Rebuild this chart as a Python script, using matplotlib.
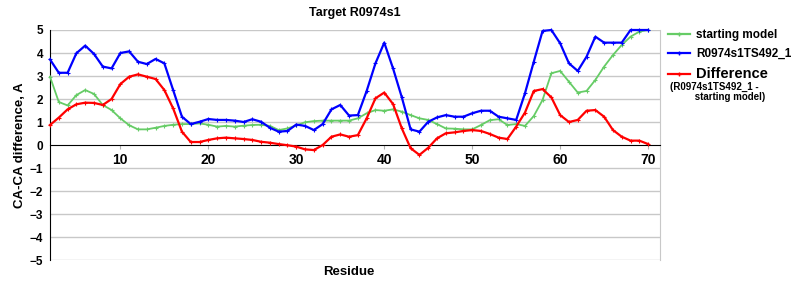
import matplotlib
matplotlib.use('Agg')
import matplotlib.pyplot as plt
from matplotlib.lines import Line2D

plt.rcParams['font.family'] = ['Liberation Sans', 'DejaVu Sans']
plt.rcParams['font.weight'] = 'bold'

# residue numbers
residues = list(range(2, 71))

# CA-CA difference, starting model
starting_model = [2.97, 1.87, 1.72, 2.17, 2.39, 2.22, 1.74, 1.52, 1.16, 0.86,
                  0.68, 0.68, 0.75, 0.83, 0.88, 0.91, 0.91, 0.94, 0.88, 0.80,
                  0.83, 0.80, 0.84, 0.87, 0.88, 0.83, 0.65, 0.72, 0.85, 0.99,
                  1.04, 1.06, 1.06, 1.06, 1.06, 1.16, 1.38, 1.52, 1.49, 1.55,
                  1.45, 1.30, 1.16, 1.09, 0.91, 0.72, 0.71, 0.68, 0.68, 0.87,
                  1.08, 1.12, 0.87, 0.91, 0.83, 1.26, 1.96, 3.12, 3.22, 2.75,
                  2.28, 2.35, 2.83, 3.41, 3.91, 4.35, 4.71, 4.93, 5.00]

# CA-CA difference, R0974s1TS492_1
model_492 = [3.72, 3.14, 3.14, 3.99, 4.32, 3.96, 3.41, 3.33, 4.00, 4.07,
             3.62, 3.52, 3.74, 3.55, 2.39, 1.23, 0.91, 1.01, 1.13, 1.09,
             1.09, 1.06, 1.00, 1.12, 1.01, 0.75, 0.58, 0.61, 0.89, 0.83,
             0.65, 0.91, 1.55, 1.74, 1.28, 1.30, 2.35, 3.55, 4.45, 3.33,
             2.07, 0.68, 0.58, 1.01, 1.20, 1.30, 1.23, 1.23, 1.38, 1.49,
             1.49, 1.23, 1.16, 1.09, 2.25, 3.62, 4.96, 5.00, 4.42, 3.55,
             3.22, 3.84, 4.71, 4.45, 4.45, 4.45, 5.00, 5.00, 5.00]

# difference (R0974s1TS492_1 - starting model)
difference = [0.87, 1.19, 1.55, 1.77, 1.84, 1.83, 1.74, 2.00, 2.65, 2.97,
              3.07, 2.97, 2.87, 2.39, 1.59, 0.58, 0.13, 0.13, 0.22, 0.29,
              0.32, 0.29, 0.26, 0.22, 0.14, 0.10, 0.04, -0.01, -0.07, -0.19,
              -0.22, 0.00, 0.36, 0.46, 0.36, 0.43, 1.16, 2.03, 2.28, 1.78,
              0.72, -0.14, -0.43, -0.12, 0.29, 0.51, 0.55, 0.61, 0.65, 0.61,
              0.48, 0.32, 0.26, 0.80, 1.41, 2.35, 2.43, 2.07, 1.30, 1.00,
              1.09, 1.49, 1.52, 1.23, 0.65, 0.36, 0.19, 0.19, 0.04]

xticks = [10, 20, 30, 40, 50, 60, 70]
yticks = [-5, -4, -3, -2, -1, 0, 1, 2, 3, 4, 5]

green = '#66cc66'
blue = '#0000ff'
red = '#ff0000'

fig = plt.figure(figsize=(8, 3), dpi=100)
ax = fig.add_axes([0.0625, 0.1333, 0.7625, 0.7667])

ax.plot(residues, starting_model, color=green, lw=1.3, marker='+', ms=3, mew=0.8, clip_on=False, zorder=3)
ax.plot(residues, model_492, color=blue, lw=1.6, marker='+', ms=3, mew=0.8, clip_on=False, zorder=4)
ax.plot(residues, difference, color=red, lw=1.6, marker='+', ms=3, mew=0.8, clip_on=False, zorder=5)

ax.set_xlim(2, 71.35)
ax.set_ylim(-5, 5)
ax.set_yticks(yticks)
ax.set_yticklabels([str(v).replace('-', '\u2212') for v in yticks], fontsize=8.5, fontweight='bold')
ax.set_xticks(xticks)
ax.set_xticklabels([str(v) for v in xticks], fontsize=8.5, fontweight='bold')

# grid
for v in yticks:
    if v != 0:
        ax.axhline(v, color='#c8c8c8', lw=1, zorder=1)

ax.spines['top'].set_visible(False)
ax.spines['bottom'].set_position(('data', 0))
ax.spines['bottom'].set_color('black')
ax.spines['right'].set_color('#c8c8c8')
ax.spines['left'].set_color('black')

ax.tick_params(axis='x', length=3, color='#b0b0b0', pad=3)
ax.tick_params(axis='y', length=0, pad=5)

ax.set_title('Target R0974s1', fontsize=9, fontweight='bold', pad=10)
ax.set_xlabel('Residue', fontsize=9.5, fontweight='bold')
ax.xaxis.set_label_coords(0.49, -0.025)
ax.set_ylabel('CA-CA difference, A', fontsize=9.5, fontweight='bold')
ax.yaxis.set_label_coords(-0.04, 0.5)

handles = [Line2D([], [], color=green, lw=1.6, marker='+', ms=3),
           Line2D([], [], color=blue, lw=1.6, marker='+', ms=3),
           Line2D([], [], color=red, lw=1.6, marker='+', ms=3)]
leg = ax.legend(handles, ['starting model', 'R0974s1TS492_1', 'Difference'],
                loc='upper left', bbox_to_anchor=(0.995, 1.05), frameon=False,
                handlelength=1.9, handletextpad=0.5, labelspacing=0.6,
                prop={'weight': 'bold', 'size': 8.5})
leg.get_texts()[2].set_fontsize(10.5)
fig.text(0.8375, 0.728, '(R0974s1TS492_1 -\n         starting model)', fontsize=7,
         fontweight='bold', va='top', ha='left', linespacing=1.05)

fig.savefig('out.png', dpi=100)
